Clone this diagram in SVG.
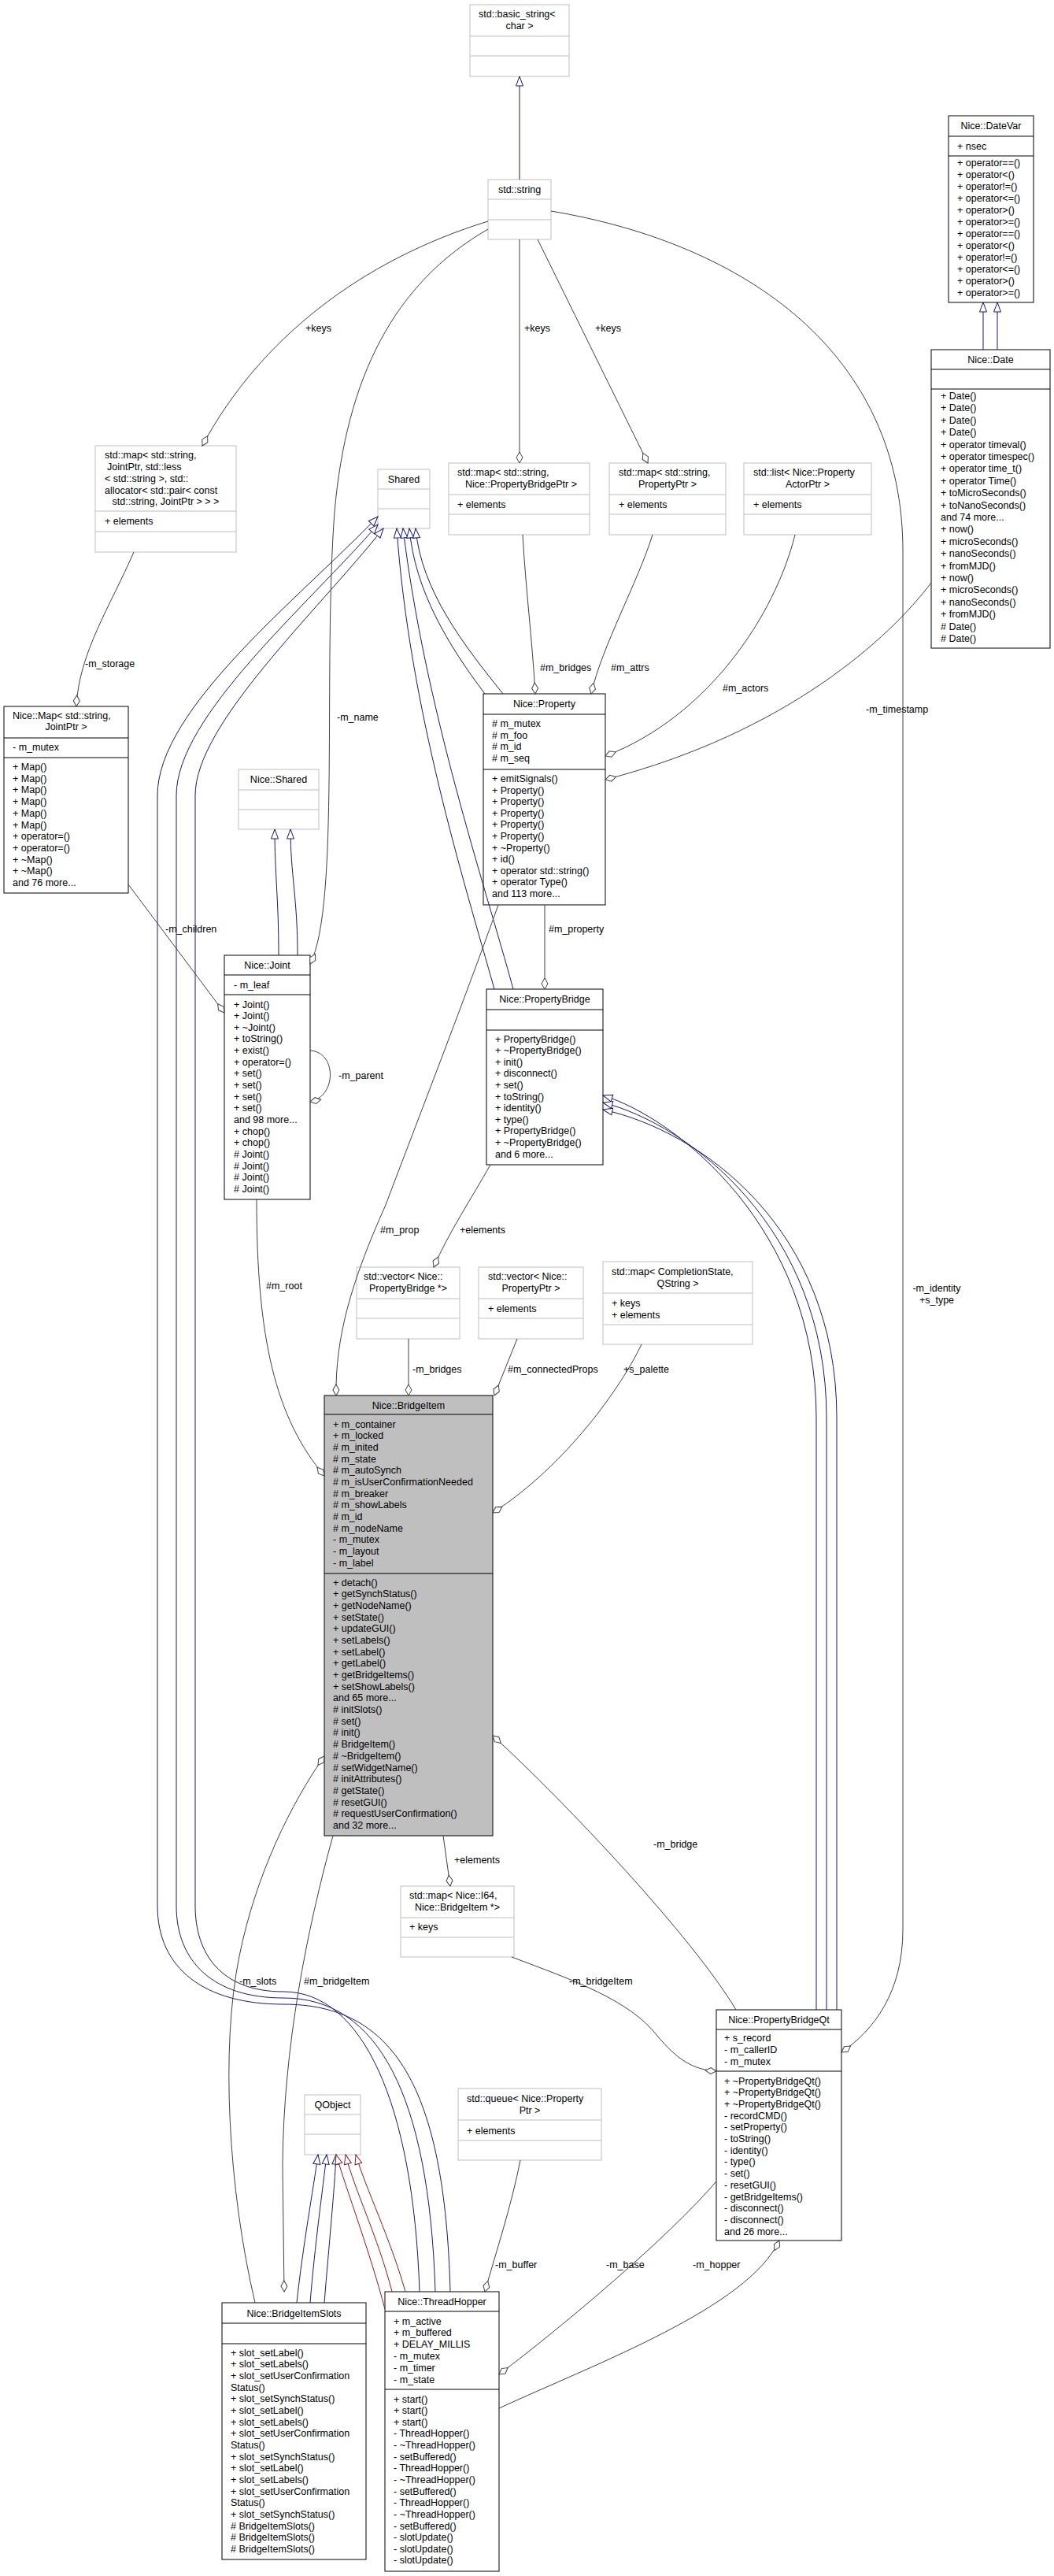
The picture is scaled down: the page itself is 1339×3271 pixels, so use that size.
<svg xmlns="http://www.w3.org/2000/svg" width="1339" height="3271" viewBox="0 0 1339 3271">
<style>
text{font-family:"Liberation Sans",Arial,sans-serif;font-size:12.5px;fill:#000}
.c{text-anchor:middle}
.b{fill:#fff;stroke:#000;stroke-width:1}
.g{fill:#fff;stroke:#bfbfbf;stroke-width:1}
.gi{fill:#bfbfbf;stroke:#000;stroke-width:1}
.s{stroke:#000;stroke-width:1}
.sg{stroke:#bfbfbf;stroke-width:1}
.agg{fill:none;stroke:#404040;stroke-width:1;marker-end:url(#dia)}
.inh{fill:none;stroke:#191970;stroke-width:1;marker-end:url(#tri)}
.prv{fill:none;stroke:#8b1a1a;stroke-width:1;marker-end:url(#trir)}
</style>
<defs>
<marker id="dia" viewBox="0 0 16 10" markerWidth="16" markerHeight="10" refX="15" refY="5" orient="auto" markerUnits="userSpaceOnUse"><path d="M1,5 L8,1 L15,5 L8,9 Z" fill="#fff" stroke="#404040"/></marker>
<marker id="tri" viewBox="0 0 14 12" markerWidth="14" markerHeight="12" refX="13" refY="6" orient="auto" markerUnits="userSpaceOnUse"><path d="M1,1.5 L13,6 L1,10.5 Z" fill="#fff" stroke="#191970"/></marker>
<marker id="trir" viewBox="0 0 14 12" markerWidth="14" markerHeight="12" refX="13" refY="6" orient="auto" markerUnits="userSpaceOnUse"><path d="M1,1.5 L13,6 L1,10.5 Z" fill="#fff" stroke="#8b1a1a"/></marker>
</defs>
<rect width="1339" height="3271" fill="#fff"/>

<g id="n_basic_string">
<rect x="597" y="6" width="126" height="91" class="g"/>
<line x1="597" y1="46" x2="723" y2="46" class="sg"/><line x1="597" y1="71" x2="723" y2="71" class="sg"/>
<text x="608" y="22">std::basic_string&lt;</text><text x="660" y="37" class="c">char &gt;</text>
</g>
<g id="n_string">
<rect x="620" y="228" width="80" height="76" class="g"/>
<line x1="620" y1="253" x2="700" y2="253" class="sg"/><line x1="620" y1="279" x2="700" y2="279" class="sg"/>
<text x="660" y="245" class="c">std::string</text>
</g>
<g id="n_datevar">
<rect x="1205" y="147" width="108" height="237" class="b"/>
<line x1="1205" y1="173" x2="1313" y2="173" class="s"/><line x1="1205" y1="198" x2="1313" y2="198" class="s"/>
<text x="1259" y="164" class="c">Nice::DateVar</text>
<text x="1216" y="190">+ nsec</text>
<text x="1216" y="211"><tspan>+ operator==()</tspan><tspan x="1216" dy="15">+ operator&lt;()</tspan><tspan x="1216" dy="15">+ operator!=()</tspan><tspan x="1216" dy="15">+ operator&lt;=()</tspan><tspan x="1216" dy="15">+ operator&gt;()</tspan><tspan x="1216" dy="15">+ operator&gt;=()</tspan><tspan x="1216" dy="15">+ operator==()</tspan><tspan x="1216" dy="15">+ operator&lt;()</tspan><tspan x="1216" dy="15">+ operator!=()</tspan><tspan x="1216" dy="15">+ operator&lt;=()</tspan><tspan x="1216" dy="15">+ operator&gt;()</tspan><tspan x="1216" dy="15">+ operator&gt;=()</tspan></text>
</g>
<g id="n_date">
<rect x="1183" y="444" width="151" height="379" class="b"/>
<line x1="1183" y1="469" x2="1334" y2="469" class="s"/><line x1="1183" y1="494" x2="1334" y2="494" class="s"/>
<text x="1258.5" y="461" class="c">Nice::Date</text>
<text x="1195" y="507"><tspan>+ Date()</tspan><tspan x="1195" dy="15.4">+ Date()</tspan><tspan x="1195" dy="15.4">+ Date()</tspan><tspan x="1195" dy="15.4">+ Date()</tspan><tspan x="1195" dy="15.4">+ operator timeval()</tspan><tspan x="1195" dy="15.4">+ operator timespec()</tspan><tspan x="1195" dy="15.4">+ operator time_t()</tspan><tspan x="1195" dy="15.4">+ operator Time()</tspan><tspan x="1195" dy="15.4">+ toMicroSeconds()</tspan><tspan x="1195" dy="15.4">+ toNanoSeconds()</tspan><tspan x="1195" dy="15.4">and 74 more...</tspan><tspan x="1195" dy="15.4">+ now()</tspan><tspan x="1195" dy="15.4">+ microSeconds()</tspan><tspan x="1195" dy="15.4">+ nanoSeconds()</tspan><tspan x="1195" dy="15.4">+ fromMJD()</tspan><tspan x="1195" dy="15.4">+ now()</tspan><tspan x="1195" dy="15.4">+ microSeconds()</tspan><tspan x="1195" dy="15.4">+ nanoSeconds()</tspan><tspan x="1195" dy="15.4">+ fromMJD()</tspan><tspan x="1195" dy="15.4"># Date()</tspan><tspan x="1195" dy="15.4"># Date()</tspan></text>
</g>
<g id="n_map_joint">
<rect x="121" y="566" width="179" height="135" class="g"/>
<line x1="121" y1="649" x2="300" y2="649" class="sg"/><line x1="121" y1="675" x2="300" y2="675" class="sg"/>
<text x="133" y="582">std::map&lt; std::string,</text><text x="136" y="597">JointPtr, std::less</text><text x="133" y="611.5">&lt; std::string &gt;, std::</text><text x="133" y="626.5">allocator&lt; std::pair&lt; const</text><text x="210.5" y="641" class="c">std::string, JointPtr &gt; &gt; &gt;</text>
<text x="133" y="666">+ elements</text>
</g>
<g id="n_shared">
<rect x="480" y="596" width="66" height="75" class="g"/>
<line x1="480" y1="621" x2="546" y2="621" class="sg"/><line x1="480" y1="646" x2="546" y2="646" class="sg"/>
<text x="513" y="613" class="c">Shared</text>
</g>
<g id="n_map_pb">
<rect x="570" y="588" width="179" height="91" class="g"/>
<line x1="570" y1="628" x2="749" y2="628" class="sg"/><line x1="570" y1="653" x2="749" y2="653" class="sg"/>
<text x="581" y="603.5">std::map&lt; std::string,</text><text x="662" y="618.5" class="c">Nice::PropertyBridgePtr &gt;</text>
<text x="581" y="644.5">+ elements</text>
</g>
<g id="n_map_prop">
<rect x="774" y="588" width="148" height="91" class="g"/>
<line x1="774" y1="628" x2="922" y2="628" class="sg"/><line x1="774" y1="653" x2="922" y2="653" class="sg"/>
<text x="786" y="603.5">std::map&lt; std::string,</text><text x="848" y="618.5" class="c">PropertyPtr &gt;</text>
<text x="786" y="644.5">+ elements</text>
</g>
<g id="n_list">
<rect x="945" y="588" width="162" height="91" class="g"/>
<line x1="945" y1="628" x2="1107" y2="628" class="sg"/><line x1="945" y1="653" x2="1107" y2="653" class="sg"/>
<text x="957" y="603.5">std::list&lt; Nice::Property</text><text x="1026" y="618.5" class="c">ActorPtr &gt;</text>
<text x="957" y="644.5">+ elements</text>
</g>
<g id="n_map">
<rect x="5" y="897" width="158" height="237" class="b"/>
<line x1="5" y1="937" x2="163" y2="937" class="s"/><line x1="5" y1="962" x2="163" y2="962" class="s"/>
<text x="16" y="912.5">Nice::Map&lt; std::string,</text><text x="84" y="927" class="c">JointPtr &gt;</text>
<text x="16" y="953">- m_mutex</text>
<text x="16" y="978"><tspan>+ Map()</tspan><tspan x="16" dy="14.7">+ Map()</tspan><tspan x="16" dy="14.7">+ Map()</tspan><tspan x="16" dy="14.7">+ Map()</tspan><tspan x="16" dy="14.7">+ Map()</tspan><tspan x="16" dy="14.7">+ Map()</tspan><tspan x="16" dy="14.7">+ operator=()</tspan><tspan x="16" dy="14.7">+ operator=()</tspan><tspan x="16" dy="14.7">+ ~Map()</tspan><tspan x="16" dy="14.7">+ ~Map()</tspan><tspan x="16" dy="14.7">and 76 more...</tspan></text>
</g>
<g id="n_nice_shared">
<rect x="303" y="977" width="102" height="76" class="g"/>
<line x1="303" y1="1003" x2="405" y2="1003" class="sg"/><line x1="303" y1="1028" x2="405" y2="1028" class="sg"/>
<text x="354" y="994" class="c">Nice::Shared</text>
</g>
<g id="n_joint">
<rect x="285" y="1213" width="109" height="310" class="b"/>
<line x1="285" y1="1238" x2="394" y2="1238" class="s"/><line x1="285" y1="1263" x2="394" y2="1263" class="s"/>
<text x="339.5" y="1230" class="c">Nice::Joint</text>
<text x="297" y="1255">- m_leaf</text>
<text x="297" y="1279.5"><tspan>+ Joint()</tspan><tspan x="297" dy="14.65">+ Joint()</tspan><tspan x="297" dy="14.65">+ ~Joint()</tspan><tspan x="297" dy="14.65">+ toString()</tspan><tspan x="297" dy="14.65">+ exist()</tspan><tspan x="297" dy="14.65">+ operator=()</tspan><tspan x="297" dy="14.65">+ set()</tspan><tspan x="297" dy="14.65">+ set()</tspan><tspan x="297" dy="14.65">+ set()</tspan><tspan x="297" dy="14.65">+ set()</tspan><tspan x="297" dy="14.65">and 98 more...</tspan><tspan x="297" dy="14.65">+ chop()</tspan><tspan x="297" dy="14.65">+ chop()</tspan><tspan x="297" dy="14.65"># Joint()</tspan><tspan x="297" dy="14.65"># Joint()</tspan><tspan x="297" dy="14.65"># Joint()</tspan><tspan x="297" dy="14.65"># Joint()</tspan></text>
</g>
<g id="n_property">
<rect x="614" y="881" width="155" height="268" class="b"/>
<line x1="614" y1="907" x2="769" y2="907" class="s"/><line x1="614" y1="977" x2="769" y2="977" class="s"/>
<text x="691.5" y="898" class="c">Nice::Property</text>
<text x="625" y="923"><tspan># m_mutex</tspan><tspan x="625" dy="14.6"># m_foo</tspan><tspan x="625" dy="14.6"># m_id</tspan><tspan x="625" dy="14.6"># m_seq</tspan></text>
<text x="625" y="993"><tspan>+ emitSignals()</tspan><tspan x="625" dy="14.6">+ Property()</tspan><tspan x="625" dy="14.6">+ Property()</tspan><tspan x="625" dy="14.6">+ Property()</tspan><tspan x="625" dy="14.6">+ Property()</tspan><tspan x="625" dy="14.6">+ Property()</tspan><tspan x="625" dy="14.6">+ ~Property()</tspan><tspan x="625" dy="14.6">+ id()</tspan><tspan x="625" dy="14.6">+ operator std::string()</tspan><tspan x="625" dy="14.6">+ operator Type()</tspan><tspan x="625" dy="14.6">and 113 more...</tspan></text>
</g>
<g id="n_propertybridge">
<rect x="618" y="1256" width="148" height="223" class="b"/>
<line x1="618" y1="1282" x2="766" y2="1282" class="s"/><line x1="618" y1="1308" x2="766" y2="1308" class="s"/>
<text x="692" y="1273" class="c">Nice::PropertyBridge</text>
<text x="629" y="1323.5"><tspan>+ PropertyBridge()</tspan><tspan x="629" dy="14.6">+ ~PropertyBridge()</tspan><tspan x="629" dy="14.6">+ init()</tspan><tspan x="629" dy="14.6">+ disconnect()</tspan><tspan x="629" dy="14.6">+ set()</tspan><tspan x="629" dy="14.6">+ toString()</tspan><tspan x="629" dy="14.6">+ identity()</tspan><tspan x="629" dy="14.6">+ type()</tspan><tspan x="629" dy="14.6">+ PropertyBridge()</tspan><tspan x="629" dy="14.6">+ ~PropertyBridge()</tspan><tspan x="629" dy="14.6">and 6 more...</tspan></text>
</g>
<g id="n_vector_pb">
<rect x="453" y="1609" width="131" height="91" class="g"/>
<line x1="453" y1="1649" x2="584" y2="1649" class="sg"/><line x1="453" y1="1674" x2="584" y2="1674" class="sg"/>
<text x="462" y="1624.5">std::vector&lt; Nice::</text><text x="518.5" y="1640" class="c">PropertyBridge *&gt;</text>
</g>
<g id="n_vector_prop">
<rect x="608" y="1609" width="133" height="91" class="g"/>
<line x1="608" y1="1649" x2="741" y2="1649" class="sg"/><line x1="608" y1="1674" x2="741" y2="1674" class="sg"/>
<text x="620" y="1624.5">std::vector&lt; Nice::</text><text x="674.5" y="1640" class="c">PropertyPtr &gt;</text>
<text x="620" y="1665.5">+ elements</text>
</g>
<g id="n_map_cs">
<rect x="766" y="1602" width="190" height="105" class="g"/>
<line x1="766" y1="1642" x2="956" y2="1642" class="sg"/><line x1="766" y1="1682" x2="956" y2="1682" class="sg"/>
<text x="777" y="1619">std::map&lt; CompletionState,</text><text x="861" y="1634" class="c">QString &gt;</text>
<text x="777" y="1658.5"><tspan>+ keys</tspan><tspan x="777" dy="15">+ elements</tspan></text>
</g>
<g id="n_bridgeitem">
<rect x="412" y="1772" width="214" height="559" class="gi"/>
<line x1="412" y1="1796" x2="626" y2="1796" class="s"/><line x1="412" y1="1998" x2="626" y2="1998" class="s"/>
<text x="519" y="1788.5" class="c">Nice::BridgeItem</text>
<text x="423" y="1812.5"><tspan>+ m_container</tspan><tspan x="423" dy="14.67">+ m_locked</tspan><tspan x="423" dy="14.67"># m_inited</tspan><tspan x="423" dy="14.67"># m_state</tspan><tspan x="423" dy="14.67"># m_autoSynch</tspan><tspan x="423" dy="14.67"># m_isUserConfirmationNeeded</tspan><tspan x="423" dy="14.67"># m_breaker</tspan><tspan x="423" dy="14.67"># m_showLabels</tspan><tspan x="423" dy="14.67"># m_id</tspan><tspan x="423" dy="14.67"># m_nodeName</tspan><tspan x="423" dy="14.67">- m_mutex</tspan><tspan x="423" dy="14.67">- m_layout</tspan><tspan x="423" dy="14.67">- m_label</tspan></text>
<text x="423" y="2013.5"><tspan>+ detach()</tspan><tspan x="423" dy="14.69">+ getSynchStatus()</tspan><tspan x="423" dy="14.69">+ getNodeName()</tspan><tspan x="423" dy="14.69">+ setState()</tspan><tspan x="423" dy="14.69">+ updateGUI()</tspan><tspan x="423" dy="14.69">+ setLabels()</tspan><tspan x="423" dy="14.69">+ setLabel()</tspan><tspan x="423" dy="14.69">+ getLabel()</tspan><tspan x="423" dy="14.69">+ getBridgeItems()</tspan><tspan x="423" dy="14.69">+ setShowLabels()</tspan><tspan x="423" dy="14.69">and 65 more...</tspan><tspan x="423" dy="14.69"># initSlots()</tspan><tspan x="423" dy="14.69"># set()</tspan><tspan x="423" dy="14.69"># init()</tspan><tspan x="423" dy="14.69"># BridgeItem()</tspan><tspan x="423" dy="14.69"># ~BridgeItem()</tspan><tspan x="423" dy="14.69"># setWidgetName()</tspan><tspan x="423" dy="14.69"># initAttributes()</tspan><tspan x="423" dy="14.69"># getState()</tspan><tspan x="423" dy="14.69"># resetGUI()</tspan><tspan x="423" dy="14.69"># requestUserConfirmation()</tspan><tspan x="423" dy="14.69">and 32 more...</tspan></text>
</g>
<g id="n_map_i64">
<rect x="509" y="2395" width="144" height="90" class="g"/>
<line x1="509" y1="2435" x2="653" y2="2435" class="sg"/><line x1="509" y1="2460" x2="653" y2="2460" class="sg"/>
<text x="520" y="2410.5">std::map&lt; Nice::I64,</text><text x="581" y="2426" class="c">Nice::BridgeItem *&gt;</text>
<text x="520" y="2451">+ keys</text>
</g>
<g id="n_pbqt">
<rect x="910" y="2552" width="159" height="293" class="b"/>
<line x1="910" y1="2577" x2="1069" y2="2577" class="s"/><line x1="910" y1="2630" x2="1069" y2="2630" class="s"/>
<text x="989.5" y="2569" class="c">Nice::PropertyBridgeQt</text>
<text x="920" y="2591.5"><tspan>+ s_record</tspan><tspan x="920" dy="15">- m_callerID</tspan><tspan x="920" dy="15">- m_mutex</tspan></text>
<text x="920" y="2646.5"><tspan>+ ~PropertyBridgeQt()</tspan><tspan x="920" dy="14.7">+ ~PropertyBridgeQt()</tspan><tspan x="920" dy="14.7">+ ~PropertyBridgeQt()</tspan><tspan x="920" dy="14.7">- recordCMD()</tspan><tspan x="920" dy="14.7">- setProperty()</tspan><tspan x="920" dy="14.7">- toString()</tspan><tspan x="920" dy="14.7">- identity()</tspan><tspan x="920" dy="14.7">- type()</tspan><tspan x="920" dy="14.7">- set()</tspan><tspan x="920" dy="14.7">- resetGUI()</tspan><tspan x="920" dy="14.7">- getBridgeItems()</tspan><tspan x="920" dy="14.7">- disconnect()</tspan><tspan x="920" dy="14.7">- disconnect()</tspan><tspan x="920" dy="14.7">and 26 more...</tspan></text>
</g>
<g id="n_qobject">
<rect x="387" y="2660" width="71" height="76" class="g"/>
<line x1="387" y1="2685" x2="458" y2="2685" class="sg"/><line x1="387" y1="2710" x2="458" y2="2710" class="sg"/>
<text x="422.5" y="2677" class="c">QObject</text>
</g>
<g id="n_queue">
<rect x="582" y="2652" width="182" height="91" class="g"/>
<line x1="582" y1="2692" x2="764" y2="2692" class="sg"/><line x1="582" y1="2718" x2="764" y2="2718" class="sg"/>
<text x="593" y="2669">std::queue&lt; Nice::Property</text><text x="673" y="2683.5" class="c">Ptr &gt;</text>
<text x="593" y="2709.5">+ elements</text>
</g>
<g id="n_slots">
<rect x="282" y="2924" width="183" height="326" class="b"/>
<line x1="282" y1="2950" x2="465" y2="2950" class="s"/><line x1="282" y1="2976" x2="465" y2="2976" class="s"/>
<text x="373.5" y="2941.5" class="c">Nice::BridgeItemSlots</text>
<text x="293" y="2991.5"><tspan>+ slot_setLabel()</tspan><tspan x="293" dy="14.67">+ slot_setLabels()</tspan><tspan x="293" dy="14.67">+ slot_setUserConfirmation</tspan><tspan x="293" dy="14.67">Status()</tspan><tspan x="293" dy="14.67">+ slot_setSynchStatus()</tspan><tspan x="293" dy="14.67">+ slot_setLabel()</tspan><tspan x="293" dy="14.67">+ slot_setLabels()</tspan><tspan x="293" dy="14.67">+ slot_setUserConfirmation</tspan><tspan x="293" dy="14.67">Status()</tspan><tspan x="293" dy="14.67">+ slot_setSynchStatus()</tspan><tspan x="293" dy="14.67">+ slot_setLabel()</tspan><tspan x="293" dy="14.67">+ slot_setLabels()</tspan><tspan x="293" dy="14.67">+ slot_setUserConfirmation</tspan><tspan x="293" dy="14.67">Status()</tspan><tspan x="293" dy="14.67">+ slot_setSynchStatus()</tspan><tspan x="293" dy="14.67"># BridgeItemSlots()</tspan><tspan x="293" dy="14.67"># BridgeItemSlots()</tspan><tspan x="293" dy="14.67"># BridgeItemSlots()</tspan></text>
</g>
<g id="n_threadhopper">
<rect x="489" y="2910" width="145" height="355" class="b"/>
<line x1="489" y1="2935" x2="634" y2="2935" class="s"/><line x1="489" y1="3034" x2="634" y2="3034" class="s"/>
<text x="561.5" y="2926.5" class="c">Nice::ThreadHopper</text>
<text x="500" y="2951.5"><tspan>+ m_active</tspan><tspan x="500" dy="14.8">+ m_buffered</tspan><tspan x="500" dy="14.8">+ DELAY_MILLIS</tspan><tspan x="500" dy="14.8">- m_mutex</tspan><tspan x="500" dy="14.8">- m_timer</tspan><tspan x="500" dy="14.8">- m_state</tspan></text>
<text x="500" y="3050.5"><tspan>+ start()</tspan><tspan x="500" dy="14.64">+ start()</tspan><tspan x="500" dy="14.64">+ start()</tspan><tspan x="500" dy="14.64">- ThreadHopper()</tspan><tspan x="500" dy="14.64">- ~ThreadHopper()</tspan><tspan x="500" dy="14.64">- setBuffered()</tspan><tspan x="500" dy="14.64">- ThreadHopper()</tspan><tspan x="500" dy="14.64">- ~ThreadHopper()</tspan><tspan x="500" dy="14.64">- setBuffered()</tspan><tspan x="500" dy="14.64">- ThreadHopper()</tspan><tspan x="500" dy="14.64">- ~ThreadHopper()</tspan><tspan x="500" dy="14.64">- setBuffered()</tspan><tspan x="500" dy="14.64">- slotUpdate()</tspan><tspan x="500" dy="14.64">- slotUpdate()</tspan><tspan x="500" dy="14.64">- slotUpdate()</tspan></text>
</g>

<g id="connectors">
<path class="inh" d="M660,228 L660,97"/>
<path class="inh" d="M1249,444 L1249,384"/>
<path class="inh" d="M1267,444 L1267,384"/>
<path class="inh" d="M354,1213 C354,1140 349,1110 349,1053"/>
<path class="inh" d="M378,1213 C378,1140 369,1110 369,1053"/>
<path class="inh" d="M628,1256 C590,1120 520,900 504,671"/>
<path class="inh" d="M652,1256 C615,1120 540,900 512,671"/>
<path class="inh" d="M616,881 C570,820 527,750 520,671"/>
<path class="inh" d="M639,881 C590,820 535,750 528,671"/>
<path class="inh" d="M572,2910 C565,2650 500,2545 360,2545 C260,2545 200,2500 200,2420 L200,1010 C200,900 380,760 480,656"/>
<path class="inh" d="M553,2910 C545,2660 480,2537 360,2537 C270,2537 224,2490 224,2420 L224,1010 C224,910 390,770 480,666"/>
<path class="inh" d="M533,2910 C525,2670 460,2529 360,2529 C280,2529 248,2480 248,2420 L248,1010 C248,920 400,780 487,671"/>
<path class="inh" d="M1037,2552 L1037,1800 C1037,1560 860,1420 766,1391"/>
<path class="inh" d="M1050,2552 L1050,1800 C1050,1560 875,1428 766,1400"/>
<path class="inh" d="M1063,2552 L1063,1800 C1063,1560 890,1436 766,1409"/>
<path class="inh" d="M377,2924 C385,2850 398,2780 404,2736"/>
<path class="inh" d="M394,2924 C400,2850 410,2780 415,2736"/>
<path class="inh" d="M412,2924 C418,2850 425,2780 427,2736"/>
<path class="prv" d="M489,2932 C470,2860 440,2780 427,2736"/>
<path class="prv" d="M498,2910 C480,2840 450,2780 439,2736"/>
<path class="prv" d="M515,2910 C495,2840 465,2780 452,2736"/>

<path class="agg" d="M620,281 C460,330 330,430 257,566"/>
<path class="agg" d="M620,291 C500,360 440,480 425,650 C410,850 432,1150 394,1224"/>
<path class="agg" d="M660,304 L660,588"/>
<path class="agg" d="M683,304 L823,588"/>
<path class="agg" d="M700,268 C950,310 1147,450 1147,700 L1147,2450 C1147,2530 1110,2578 1069,2606"/>
<path class="agg" d="M170,701 C140,770 100,830 97,897"/>
<path class="agg" d="M163,1123 L285,1286"/>
<path class="agg" d="M394,1334 C428,1336 428,1392 394,1399"/>
<path class="agg" d="M664,679 C668,750 676,810 680,881"/>
<path class="agg" d="M829,679 C810,740 765,820 751,881"/>
<path class="agg" d="M1010,679 C985,780 900,910 769,960"/>
<path class="agg" d="M1183,740 C1130,810 1000,930 769,990"/>
<path class="agg" d="M692,1149 L692,1256"/>
<path class="agg" d="M633,1149 C590,1270 520,1450 490,1530 C445,1630 426,1700 427,1772"/>
<path class="agg" d="M623,1479 C600,1520 570,1565 551,1609"/>
<path class="agg" d="M519,1700 L519,1772"/>
<path class="agg" d="M657,1700 L628,1772"/>
<path class="agg" d="M815,1707 C790,1760 720,1860 626,1921"/>
<path class="agg" d="M326,1523 C326,1700 350,1800 412,1874"/>
<path class="agg" d="M563,2331 L572,2395"/>
<path class="agg" d="M935,2552 C880,2460 720,2290 626,2204"/>
<path class="agg" d="M650,2485 C730,2515 800,2540 835,2585 C860,2615 880,2628 910,2630"/>
<path class="agg" d="M324,2924 C290,2780 280,2600 304,2484 C325,2380 370,2290 412,2230"/>
<path class="agg" d="M423,2331 C390,2450 360,2600 359,2750 L361,2910"/>
<path class="agg" d="M661,2743 C650,2800 630,2860 616,2910"/>
<path class="agg" d="M910,2770 C850,2840 720,2950 634,3015"/>
<path class="agg" d="M634,3058 C760,3000 950,2930 990,2845"/>

<text x="388" y="421">+keys</text>
<text x="666" y="421">+keys</text>
<text x="756" y="421">+keys</text>
<text x="428" y="915">-m_name</text>
<text x="1190" y="1640" class="c">-m_identity</text>
<text x="1190" y="1655" class="c">+s_type</text>
<text x="108" y="847">-m_storage</text>
<text x="210" y="1184">-m_children</text>
<text x="430" y="1370">-m_parent</text>
<text x="686" y="852">#m_bridges</text>
<text x="776" y="852">#m_attrs</text>
<text x="918" y="878">#m_actors</text>
<text x="1100" y="905">-m_timestamp</text>
<text x="697" y="1184">#m_property</text>
<text x="483" y="1566">#m_prop</text>
<text x="584" y="1566">+elements</text>
<text x="524" y="1743">-m_bridges</text>
<text x="645" y="1743">#m_connectedProps</text>
<text x="792" y="1743">+s_palette</text>
<text x="338" y="1637">#m_root</text>
<text x="577" y="2366">+elements</text>
<text x="830" y="2346">-m_bridge</text>
<text x="723" y="2520">-m_bridgeItem</text>
<text x="304" y="2520">-m_slots</text>
<text x="386" y="2520">#m_bridgeItem</text>
<text x="629" y="2880">-m_buffer</text>
<text x="770" y="2880">-m_base</text>
<text x="880" y="2880">-m_hopper</text>
</g>
</svg>
